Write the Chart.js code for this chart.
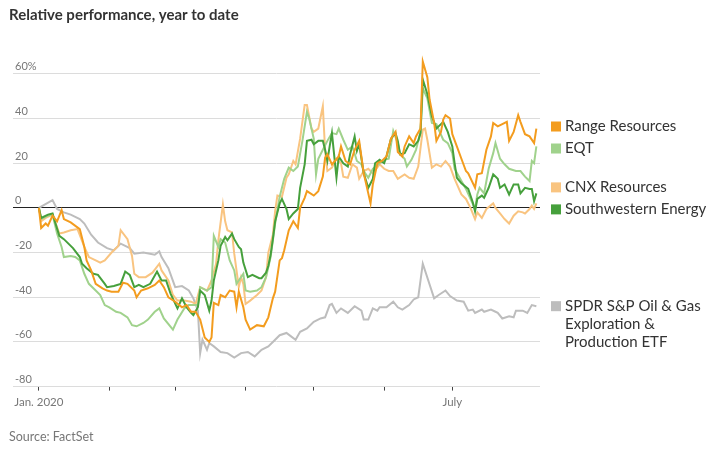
<!DOCTYPE html>
<html>
<head>
<meta charset="utf-8">
<script src="https://cdn.jsdelivr.net/npm/chart.js@4"></script>
<style>
  html, body { margin: 0; padding: 0; background: #fff; }
  #wrap { width: 712px; height: 456px; }
</style>
</head>
<body>
<div id="wrap"><canvas id="perfChart" width="712" height="456"></canvas></div>
<script>
// [day of 2020 (0 = Jan 1), % change year to date]
const range = [[0,0],[1,-9],[3,-7],[4,-8],[6,-3.5],[8,-6],[10,-1],[11,-5],[14,-6.5],[18,-9.5],[20,-17.5],[21,-23.5],[23,-28],[25,-34],[28,-36],[30,-37],[32,-37.5],[35,-37.5],[37,-33.5],[39,-34],[42,-37],[43,-40],[45,-37],[48,-36],[51,-34.5],[53,-32.5],[55,-35.5],[57,-40],[60,-42],[63,-44.5],[65,-43.5],[67,-46.5],[69,-46.5],[71,-50],[73,-58],[75,-60],[76,-58],[77,-42.5],[79,-43.5],[80,-39],[82,-40],[84,-37],[86,-37.5],[87,-44.5],[88,-37.5],[90,-44.5],[91,-50],[93,-54.5],[96,-52.5],[99,-53],[101,-49],[103,-40.5],[104,-37.5],[106,-23.5],[107,-22.5],[108,-19],[110,-10],[112,-6],[114,-9],[115,0],[117,4.5],[118,7.5],[121,5.5],[123,7.5],[125,14],[126,22.5],[127,24],[129,19.5],[132,23],[133,27.5],[135,21],[137,19.5],[139,26],[141,30],[143,15.5],[145,6.5],[146,2],[147,10.5],[149,20],[151,21],[153,23],[155,31],[157,34],[158,25],[160,23],[161,27.5],[163,32],[165,29],[166,32],[168,35.5],[169,65.5],[171,58.5],[172,48.5],[174,38],[175,30],[177,34],[178,39.5],[179,41.5],[181,40],[182,33],[184,27.5],[186,22],[188,16.5],[189,15.5],[192,9],[193,15],[195,15.5],[197,26],[199,32],[200,38],[202,36.5],[204,37.5],[206,38.5],[207,30],[209,34],[211,41.5],[212,38.5],[214,33],[216,32],[218,29],[219,35.5]];

const eqt = [[0,0],[1,-5],[4,-3.5],[6,-3],[8,-11.5],[10,-17.5],[11,-22],[14,-21.5],[16,-22],[18,-23.5],[20,-29.5],[22,-34],[25,-37],[27,-39],[29,-43.5],[31,-44.5],[34,-46.5],[36,-47],[39,-49],[41,-52.5],[43,-53],[46,-51.5],[48,-50],[51,-46.5],[53,-45],[55,-49.5],[59,-54.5],[61,-50],[64,-45],[66,-43.5],[68,-43.5],[70,-43.5],[71,-35.5],[74,-37],[76,-35.5],[77,-12.5],[79,-17.5],[80,-14],[82,-15.5],[84,-23.5],[86,-28],[87,-34],[88,-32.5],[90,-29.5],[91,-37],[93,-37.5],[96,-37],[98,-35.5],[100,-31],[102,-22],[104,-7],[106,5],[108,13],[110,18],[112,16.5],[114,18.5],[116,30],[118,43],[119,40],[121,31],[122,15],[123,22],[125,26],[127,30],[129,33.5],[131,33],[132,35.5],[134,30.5],[136,26],[138,27.5],[140,21],[142,19.5],[143,16.5],[145,13.5],[147,17.5],[150,20],[152,21.5],[154,22],[156,34.5],[158,29],[159,24],[161,22],[162,18.5],[164,21.5],[166,26],[168,34],[169,53.5],[171,49],[173,38],[175,37.5],[176,35],[178,30.5],[180,29],[182,24.5],[183,17.5],[186,12],[188,8.5],[190,4],[192,-0.5],[193,6],[194,9],[196,6.5],[198,17.5],[200,24.5],[201,29],[203,22],[205,19.5],[207,17.5],[210,16.5],[212,16.5],[214,14],[216,12],[217,21],[218,20],[219,27.5]];

const cnx = [[0,0],[1,-6],[3,-4.5],[6,-3],[9,-11.5],[11,-11],[14,-10],[17,-9.5],[20,-17.5],[22,-22],[25,-23.5],[27,-24.5],[29,-23.5],[32,-20],[35,-17],[36,-10],[39,-14],[41,-21.5],[42,-29.5],[44,-31],[47,-31],[50,-29],[53,-25],[54,-28],[57,-32.5],[59,-39],[61,-41.5],[64,-41.5],[67,-42],[69,-43],[71,-35.5],[74,-37],[76,-32.5],[78,-25],[79,-14.5],[81,1.5],[82,-6],[83,-10],[85,-11],[86,-20.5],[88,-35.5],[89,-31],[90,-34],[91,-43],[93,-41.5],[96,-39],[98,-37],[100,-31],[101,-20],[103,-12],[104,-1.5],[105,5.5],[107,5],[109,13.5],[110,15],[112,21],[113,19.5],[115,31],[117,46],[118,46],[120,35.5],[121,34],[123,35.5],[125,45.5],[126,25.5],[127,16.5],[129,18],[131,22],[133,20],[134,14],[136,13.5],[138,19.5],[140,18],[141,13],[143,16.5],[145,17.5],[147,15.5],[150,19.5],[152,17.5],[154,16.5],[156,16.5],[158,13],[161,15],[163,13.5],[165,13],[167,18.5],[169,35],[170,35.5],[171,30.5],[173,18],[175,19.5],[177,18.5],[179,21],[181,18.5],[183,13],[186,6],[188,4],[190,0],[192,-5],[193,-2],[195,-4.5],[197,-0.5],[200,2],[201,0],[203,-2.5],[205,-5],[207,-7],[209,-3.5],[211,-1.5],[213,-2],[214,-2.5],[216,-0.5],[217,1],[218,-0.5],[219,2]];

const swn = [[0,0],[1,-4.5],[4,-3],[6,-2.5],[7,-6],[9,-12.5],[11,-14],[13,-16],[15,-18],[18,-22],[19,-25],[21,-27],[24,-29.5],[26,-30],[29,-34],[30,-35.5],[33,-35],[36,-34],[38,-28.5],[40,-30],[42,-35.5],[44,-34.5],[46,-35.5],[49,-34],[52,-28.5],[54,-32.5],[56,-32.5],[58,-38.5],[61,-45],[63,-40.5],[65,-44.5],[67,-47],[68,-48],[70,-44.5],[71,-37],[73,-39],[75,-46],[76,-41.5],[77,-32.5],[79,-23.5],[80,-17],[82,-13],[83,-14.5],[85,-11.5],[86,-14],[88,-17.5],[89,-18.5],[90,-24.5],[92,-31],[94,-30],[97,-31.5],[98,-31.5],[100,-29],[101,-26],[102,-21],[103,-14],[104,-6],[106,2],[107,4],[109,-0.5],[110,-5],[112,-2.5],[114,-0.5],[115,9],[117,19.5],[118,30],[120,30.5],[121,28.5],[123,30],[125,30],[126,26],[127,21],[128,27.5],[129,33.5],[131,13.5],[132,23],[134,20],[136,18.5],[137,24],[139,32],[140,25.5],[141,28.5],[143,15.5],[145,9],[147,13],[148,20],[150,21.5],[152,20],[153,23],[155,31],[157,33.5],[158,30],[159,24],[161,24.5],[163,28.5],[165,27.5],[167,30],[168,33.5],[169,57.5],[171,51],[173,41],[175,35.5],[177,37.5],[178,38.5],[180,34],[182,27.5],[183,20],[184,13.5],[186,11],[189,8.5],[191,2.5],[192,-1.5],[193,4],[195,5.5],[196,4.5],[198,9],[200,15],[202,13],[203,9],[205,10.5],[207,6],[209,10.5],[211,10.5],[212,6.5],[214,9],[216,8.5],[217,8.5],[218,3],[219,6.5]];

const xop = [[0,0],[6,3.5],[8,-0.5],[11,-2],[14,-3],[18,-5],[20,-7],[23,-12],[26,-15.5],[30,-18],[33,-19],[36,-16],[40,-18],[42,-20.5],[46,-20],[51,-21],[53,-19.5],[54,-22],[57,-27],[60,-35.5],[63,-35],[66,-37],[68,-40.5],[70,-46],[71,-65],[72,-59],[74,-63.5],[75,-60.5],[77,-62],[80,-64.5],[83,-65],[86,-67],[89,-65],[92,-64.5],[95,-66.5],[98,-63.5],[101,-62],[103,-60],[106,-57],[109,-56],[111,-57.5],[113,-59],[115,-55.5],[118,-54],[121,-51],[124,-49.5],[126,-49],[128,-43.5],[129,-43],[131,-47],[133,-45],[136,-47],[139,-44],[142,-46],[143,-50],[145,-50],[147,-45],[149,-46],[150,-44.5],[153,-44.5],[156,-42],[158,-44.5],[160,-45.5],[163,-43.5],[165,-41],[167,-40],[169,-25],[174,-40.5],[176,-39],[179,-37],[181,-39.5],[184,-41.5],[187,-42],[189,-46],[191,-45.5],[192,-47],[195,-45.5],[196,-46.5],[199,-45.5],[201,-46.5],[202,-47],[204,-49.5],[207,-48.5],[209,-49],[210,-46],[213,-46],[215,-47],[217,-43.5],[219,-44]];

// legend order
const seriesNames = ['Range Resources', 'EQT', 'CNX Resources', 'Southwestern Energy', 'SPDR S&P Oil & Gas Exploration & Production ETF'];
const seriesData = [range, eqt, cnx, swn, xop];
const seriesColors = ['#f39c1e', '#a0d28c', '#f9c480', '#46a03c', '#bdbdbd'];
const drawOrder = [0, 3, 1, 2, 4]; // first in this list is painted on top

const yTicks = [-80, -60, -40, -20, 0, 20, 40, 60];
const monthTicks = [0, 31, 60, 91, 121, 152, 182];
const monthLabels = ['Jan. 2020', '', '', '', '', '', 'July'];

function wrapText(ctx, text, maxW) {
    const words = text.split(' ');
    const lines = [];
    let cur = '';
    words.forEach(w => {
        const test = cur ? cur + ' ' + w : w;
        if (cur && ctx.measureText(test).width > maxW) {
            lines.push(cur);
            cur = w;
        } else {
            cur = test;
        }
    });
    if (cur) lines.push(cur);
    return lines;
}

// legend on the right, each entry next to its line end, pushed apart when they collide
const sideLegend = {
    id: 'sideLegend',
    afterDraw(chart) {
        const {ctx, chartArea} = chart;
        const yScale = chart.scales.y;
        const boxX = chartArea.right + 11;
        const textX = boxX + 14;
        const lineH = 18;
        const gap = 22;
        ctx.save();
        ctx.font = '15px Lato';
        const items = seriesNames.map((name, i) => {
            const d = seriesData[i];
            return {
                lines: wrapText(ctx, name, chart.width - textX - 1),
                color: seriesColors[i],
                y: yScale.getPixelForValue(d[d.length - 1][1])
            };
        });
        for (let k = 0; k < 200; k++) {
            for (let i = 1; i < items.length; i++) {
                const need = items[i - 1].y + (items[i - 1].lines.length - 1) * lineH + gap;
                const over = need - items[i].y;
                if (over > 0.01) {
                    items[i - 1].y -= over / 2;
                    items[i].y += over / 2;
                }
            }
        }
        ctx.textBaseline = 'middle';
        ctx.textAlign = 'left';
        items.forEach(it => {
            ctx.fillStyle = it.color;
            ctx.fillRect(boxX, it.y - 5, 10, 10);
            ctx.fillStyle = '#333';
            it.lines.forEach((ln, j) => ctx.fillText(ln, textX, it.y + j * lineH));
        });
        ctx.restore();
    }
};

const ctx = document.getElementById('perfChart').getContext('2d');
new Chart(ctx, {
    type: 'line',
    data: {
        datasets: drawOrder.map(i => ({
            label: seriesNames[i],
            data: seriesData[i].map(p => ({x: p[0], y: p[1]})),
            borderColor: seriesColors[i],
            borderWidth: 2,
            pointRadius: 0,
            fill: false,
            tension: 0
        }))
    },
    options: {
        responsive: false,
        animation: false,
        layout: {
            padding: {left: 9, right: 172, top: 0, bottom: 0}
        },
        scales: {
            x: {
                type: 'linear',
                min: -11.4,
                max: 220.6,
                afterBuildTicks: scale => {
                    scale.ticks = monthTicks.map(v => ({value: v}));
                },
                grid: {
                    drawOnChartArea: false,
                    drawTicks: true,
                    tickLength: 4,
                    tickColor: '#444'
                },
                border: {display: false},
                ticks: {
                    autoSkip: false,
                    maxRotation: 0,
                    padding: 5,
                    color: '#777',
                    font: {family: 'Lato', size: 11.5},
                    callback: (v, idx) => monthLabels[idx]
                }
            },
            y: {
                min: -80,
                max: 70,
                afterBuildTicks: scale => {
                    scale.ticks = yTicks.map(v => ({value: v}));
                },
                grid: {
                    drawTicks: false,
                    color: c => (c.tick && c.tick.value === 0) ? '#222' : '#dcdcdc'
                },
                border: {display: false},
                ticks: {
                    mirror: true,
                    padding: 2,
                    labelOffset: -7,
                    color: '#777',
                    font: {family: 'Lato', size: 11},
                    callback: v => v === 60 ? v + '%' : String(v)
                }
            }
        },
        plugins: {
            legend: {display: false},
            tooltip: {enabled: false},
            title: {
                display: true,
                text: 'Relative performance, year to date',
                align: 'start',
                color: '#333',
                font: {family: 'Lato', size: 15, weight: 'bold'},
                padding: {top: 6, bottom: 27.5}
            },
            subtitle: {
                display: true,
                position: 'bottom',
                text: 'Source: FactSet',
                align: 'start',
                color: '#777',
                font: {family: 'Lato', size: 12.5},
                padding: {top: 15, bottom: 11.6}
            }
        }
    },
    plugins: [sideLegend]
});
</script>
</body>
</html>
